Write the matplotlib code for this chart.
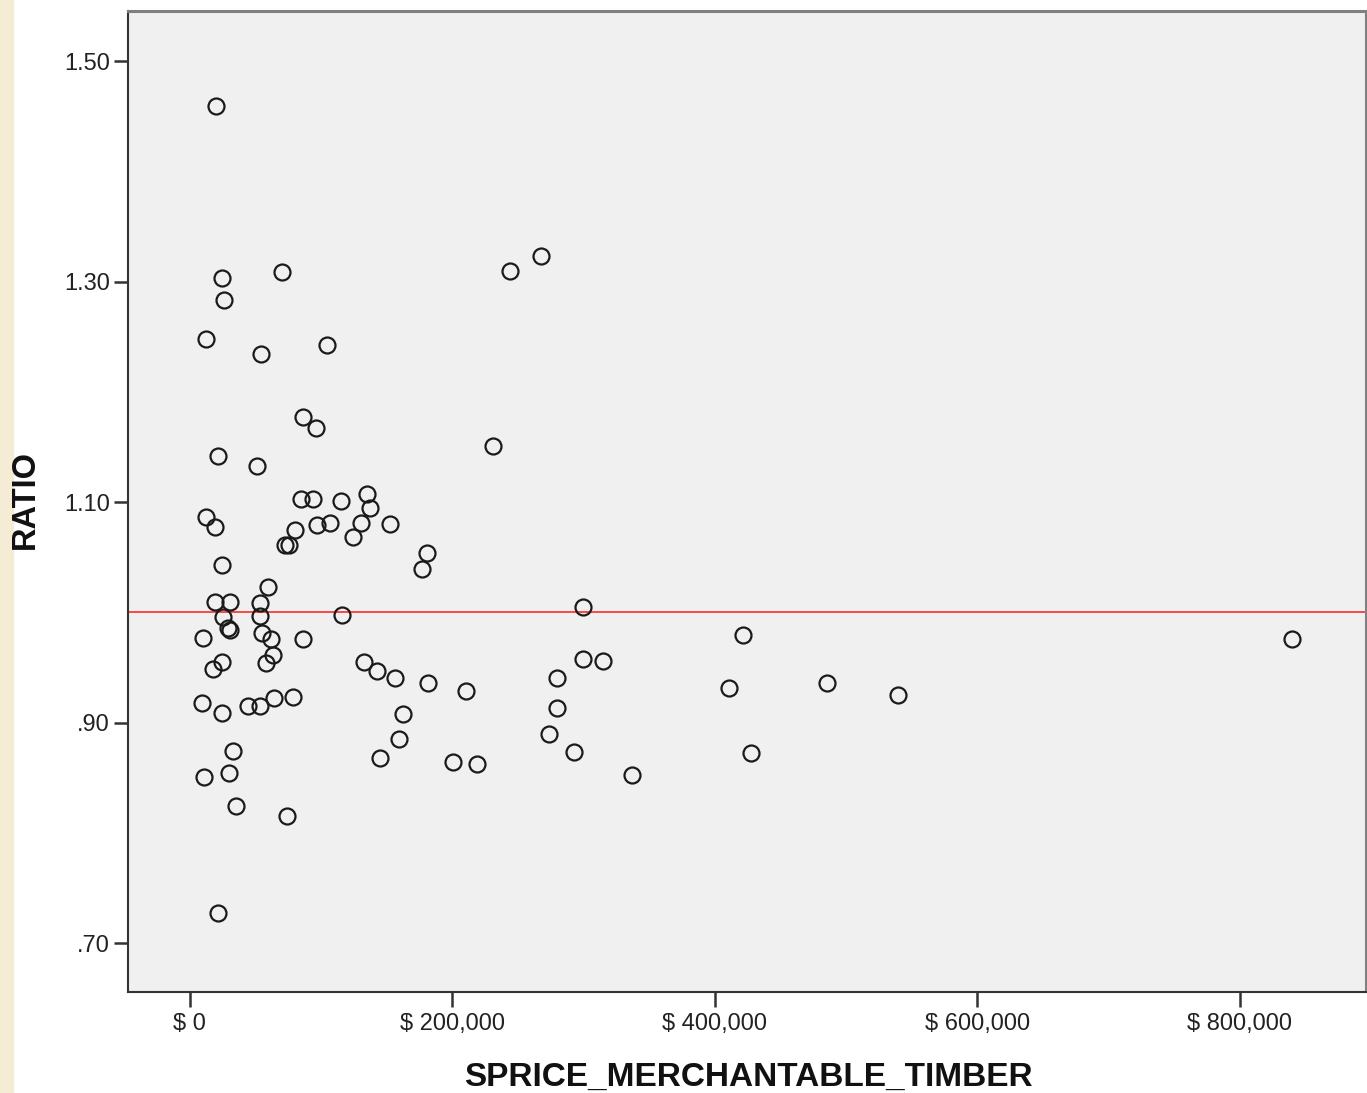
import matplotlib
matplotlib.use("Agg")
import matplotlib.pyplot as plt
from matplotlib.ticker import FixedLocator, FuncFormatter
from matplotlib.patches import Rectangle

plt.rcParams['font.family'] = ['Liberation Sans', 'DejaVu Sans']

# --- data ---
sprice = [19800, 267300, 243700, 24400, 70100, 25900, 12200, 54100, 104300, 86100,
          96000, 21300, 51000, 230800, 84500, 93700, 115000, 134800, 137100, 12200,
          19000, 80000, 96700, 106600, 130200, 124100, 152300, 72400, 75400, 180500,
          176700, 24400, 59400, 19000, 30500, 53300, 25100, 53300, 115800, 28900,
          30500, 9900, 54800, 61700, 86100, 24400, 17500, 63200, 57900, 132500,
          142400, 156100, 181300, 9100, 24400, 44200, 53300, 64000, 78400, 162200,
          159200, 144700, 32700, 10700, 29700, 35000, 73900, 21300, 299300, 299300,
          314500, 210200, 279500, 279500, 273400, 292500, 200300, 218600, 336600, 421900,
          410500, 427300, 485900, 539900, 840000]
ratio = [1.459, 1.323, 1.310, 1.303, 1.309, 1.283, 1.248, 1.234, 1.242, 1.177,
         1.167, 1.142, 1.133, 1.151, 1.103, 1.103, 1.101, 1.107, 1.095, 1.086,
         1.077, 1.075, 1.079, 1.081, 1.081, 1.068, 1.080, 1.061, 1.061, 1.054,
         1.039, 1.043, 1.023, 1.009, 1.009, 1.008, 0.996, 0.997, 0.998, 0.986,
         0.984, 0.977, 0.981, 0.976, 0.976, 0.955, 0.949, 0.961, 0.954, 0.955,
         0.947, 0.940, 0.936, 0.918, 0.909, 0.915, 0.915, 0.922, 0.923, 0.908,
         0.885, 0.868, 0.874, 0.851, 0.854, 0.824, 0.815, 0.727, 1.005, 0.958,
         0.956, 0.929, 0.940, 0.913, 0.890, 0.873, 0.864, 0.862, 0.852, 0.979,
         0.931, 0.872, 0.936, 0.925, 0.976]
ref_ratio = 1.0
xticks = [0, 200000, 400000, 600000, 800000]
yticks = [0.70, 0.90, 1.10, 1.30, 1.50]

W, H = 1367, 1093
fig = plt.figure(figsize=(W / 100, H / 100), dpi=100)

# beige strip on the left edge
fig.patches.append(Rectangle((0, 0), 13 / W, 1, transform=fig.transFigure,
                             color='#f5ecd6', zorder=0))

ax = fig.add_axes([128 / W, (H - 992) / H, (1366 - 128) / W, (992 - 11) / H])
ax.set_facecolor('#f0f0f0')

ax.axhline(ref_ratio, color='#ff1a1a', lw=1.1, zorder=2)
ax.plot(sprice, ratio, 'o', ms=11.5, mfc='none', mec='#1a1a1a', mew=1.6, zorder=3)

ax.set_xlim(-47200, 896400)
ax.set_ylim(0.6556, 1.5454)

ax.xaxis.set_major_locator(FixedLocator(xticks))
ax.yaxis.set_major_locator(FixedLocator(yticks))
ax.xaxis.set_major_formatter(FuncFormatter(lambda v, p: "$ {:,.0f}".format(v)))
ax.yaxis.set_major_formatter(FuncFormatter(lambda v, p: ("%.2f" % v).lstrip('0')))
ax.tick_params(axis='x', length=11, width=1.8, color='#333333', pad=4,
               labelsize=17, labelcolor='#222222')
ax.tick_params(axis='y', length=10, width=1.8, color='#333333', pad=3,
               labelsize=17, labelcolor='#222222')

for s in ['left', 'bottom']:
    ax.spines[s].set_color('#333333')
    ax.spines[s].set_linewidth(1.5)
ax.spines['top'].set_color('#808080')
ax.spines['top'].set_linewidth(2.2)
ax.spines['right'].set_color('#808080')
ax.spines['right'].set_linewidth(1.5)

fig.text(25 / W, 1 - 500 / H, 'RATIO', rotation=90, ha='center', va='center',
         fontsize=23.5, fontweight='bold', color='#111111')
fig.text(748 / W, 1 - 1077 / H, 'SPRICE_MERCHANTABLE_TIMBER', ha='center', va='center',
         fontsize=24, fontweight='bold', color='#111111')

fig.savefig('out.png', dpi=100)
